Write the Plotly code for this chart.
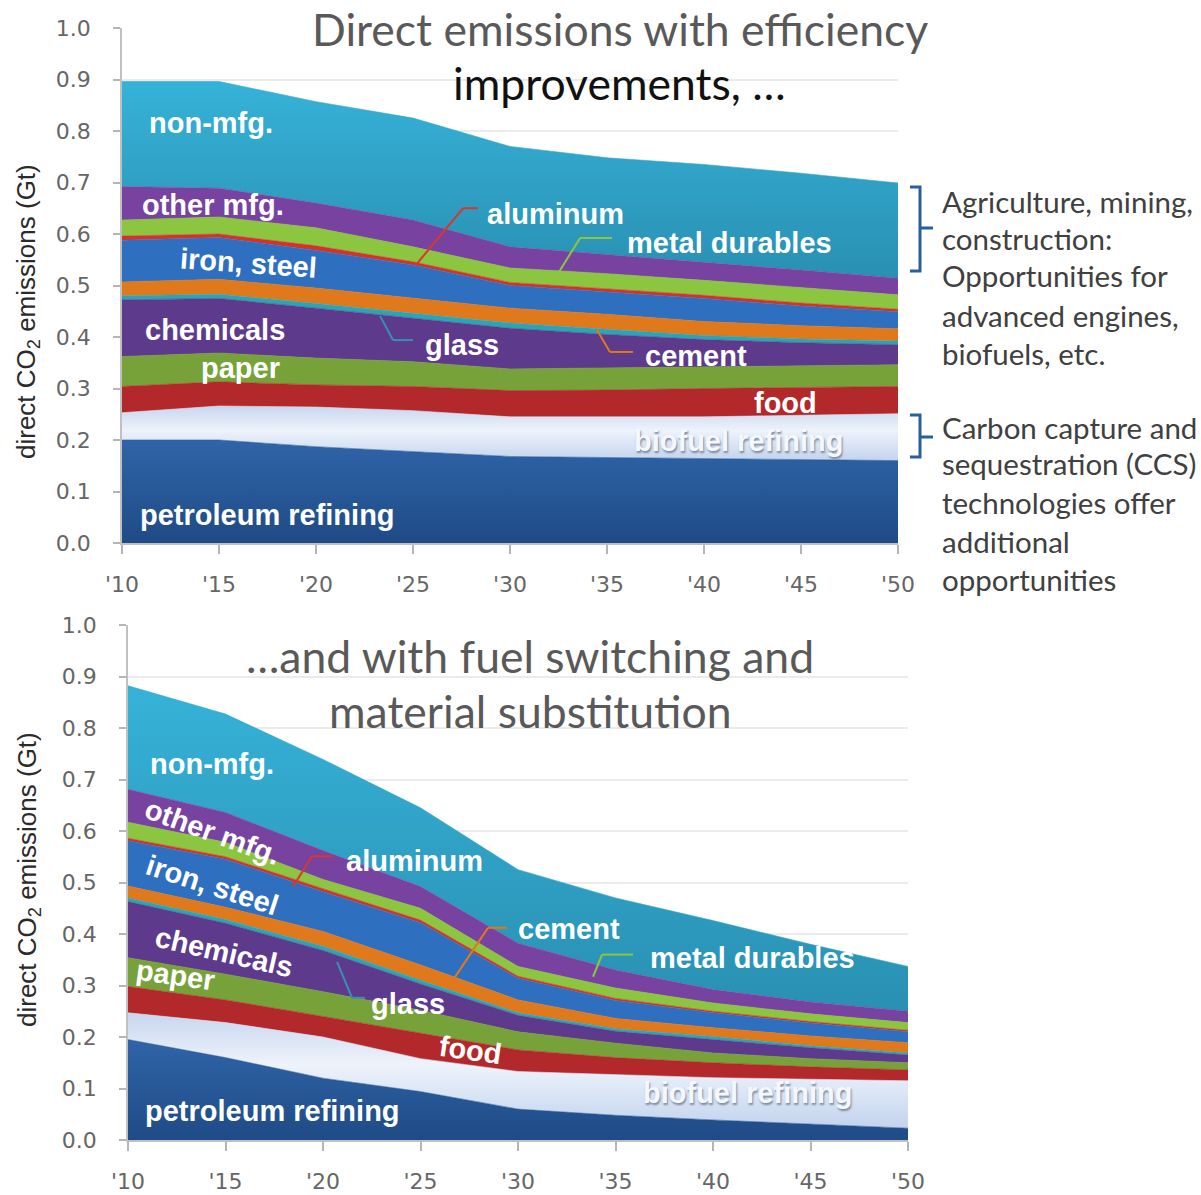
import plotly.graph_objects as go

W, H = 1201, 1195

# ---------------- data ----------------
years = [2010, 2015, 2020, 2025, 2030, 2035, 2040, 2045, 2050]
tick_text = ["'10", "'15", "'20", "'25", "'30", "'35", "'40", "'45", "'50"]
y_ticks = [0.0, 0.1, 0.2, 0.3, 0.4, 0.5, 0.6, 0.7, 0.8, 0.9, 1.0]

sectors = ["petroleum refining", "biofuel refining", "food", "paper", "chemicals",
           "glass", "cement", "iron, steel", "aluminum", "metal durables",
           "other mfg.", "non-mfg."]

# Scenario 1: efficiency improvements (Gt CO2)
eff_petroleum = [0.200, 0.200, 0.187, 0.177, 0.168, 0.166, 0.164, 0.162, 0.160]
eff_biofuel   = [0.053, 0.066, 0.077, 0.080, 0.077, 0.079, 0.081, 0.086, 0.091]
eff_food      = [0.051, 0.047, 0.043, 0.047, 0.051, 0.052, 0.055, 0.054, 0.053]
eff_paper     = [0.058, 0.056, 0.052, 0.048, 0.042, 0.043, 0.043, 0.043, 0.042]
eff_chemicals = [0.110, 0.106, 0.097, 0.085, 0.079, 0.065, 0.052, 0.044, 0.039]
eff_glass     = [0.008, 0.008, 0.009, 0.009, 0.010, 0.010, 0.008, 0.007, 0.007]
eff_cement    = [0.027, 0.029, 0.030, 0.029, 0.029, 0.029, 0.027, 0.026, 0.024]
eff_iron      = [0.081, 0.081, 0.073, 0.065, 0.044, 0.044, 0.045, 0.038, 0.033]
eff_aluminum  = [0.008, 0.007, 0.009, 0.006, 0.006, 0.006, 0.006, 0.006, 0.005]
eff_metal     = [0.031, 0.033, 0.035, 0.029, 0.028, 0.029, 0.029, 0.030, 0.028]
eff_other     = [0.065, 0.056, 0.048, 0.052, 0.041, 0.037, 0.036, 0.034, 0.032]
eff_nonmfg    = [0.204, 0.207, 0.197, 0.198, 0.195, 0.188, 0.189, 0.188, 0.185]

# Scenario 2: + fuel switching and material substitution (Gt CO2)
fs_petroleum = [0.195, 0.160, 0.120, 0.094, 0.060, 0.048, 0.039, 0.031, 0.023]
fs_biofuel   = [0.052, 0.068, 0.080, 0.064, 0.073, 0.079, 0.082, 0.087, 0.092]
fs_food      = [0.051, 0.044, 0.040, 0.049, 0.042, 0.033, 0.029, 0.024, 0.021]
fs_paper     = [0.056, 0.050, 0.048, 0.045, 0.035, 0.028, 0.019, 0.016, 0.014]
fs_chemicals = [0.109, 0.099, 0.080, 0.051, 0.032, 0.023, 0.026, 0.021, 0.015]
fs_glass     = [0.007, 0.007, 0.008, 0.007, 0.005, 0.005, 0.006, 0.004, 0.004]
fs_cement    = [0.023, 0.024, 0.029, 0.030, 0.025, 0.020, 0.017, 0.019, 0.020]
fs_iron      = [0.088, 0.093, 0.077, 0.082, 0.042, 0.035, 0.029, 0.025, 0.021]
fs_aluminum  = [0.005, 0.005, 0.006, 0.005, 0.004, 0.004, 0.003, 0.003, 0.003]
fs_metal     = [0.031, 0.028, 0.018, 0.023, 0.019, 0.020, 0.016, 0.015, 0.015]
fs_other     = [0.064, 0.058, 0.056, 0.042, 0.045, 0.035, 0.026, 0.023, 0.022]
fs_nonmfg    = [0.201, 0.191, 0.177, 0.153, 0.143, 0.140, 0.134, 0.112, 0.087]

eff_series = [eff_petroleum, eff_biofuel, eff_food, eff_paper, eff_chemicals, eff_glass,
              eff_cement, eff_iron, eff_aluminum, eff_metal, eff_other, eff_nonmfg]
fs_series = [fs_petroleum, fs_biofuel, fs_food, fs_paper, fs_chemicals, fs_glass,
             fs_cement, fs_iron, fs_aluminum, fs_metal, fs_other, fs_nonmfg]

colors = {
    "petroleum refining": "#2a5b9b",
    "biofuel refining": "#d6e2f3",
    "food": "#b3282a",
    "paper": "#77a23a",
    "chemicals": "#5d3a8c",
    "glass": "#2aa5b5",
    "cement": "#e0781c",
    "iron, steel": "#2f6fc0",
    "aluminum": "#d4322a",
    "metal durables": "#8cc540",
    "other mfg.": "#7843a0",
    "non-mfg.": "#2fa6cb",
}
gradients = {
    "petroleum refining": [[0, "#1f4b86"], [1, "#2f64a8"]],
    "biofuel refining": [[0, "#c3d4ee"], [0.55, "#eef3fb"], [1, "#c7d6ef"]],
    "non-mfg.": [[0, "#2990b2"], [1, "#36b2d8"]],
}


def px2paper_x(x):
    return x / W


def px2paper_y(y):
    return 1 - y / H


fig = go.Figure()

for series, sg, xa, ya in [(eff_series, "eff", "x", "y"), (fs_series, "fs", "x2", "y2")]:
    for name, vals in zip(sectors, series):
        c = colors[name]
        kw = {}
        if name in gradients:
            kw["fillgradient"] = dict(type="vertical", colorscale=gradients[name])
        fig.add_trace(go.Scatter(
            x=years, y=vals, name=name, stackgroup=sg, mode="lines",
            line=dict(width=0.6, color=c), fillcolor=c,
            xaxis=xa, yaxis=ya, showlegend=False, **kw))

axis_font = dict(family="DejaVu Sans, Verdana, sans-serif", size=22, color="#666666")

xcommon = dict(range=[2010, 2050], tickvals=years, ticktext=tick_text, ticks="outside",
               ticklen=9, tickwidth=1.5, tickcolor="#b5b5b5", showline=True, linecolor="#c0c0c0",
               linewidth=1.5, showgrid=False, zeroline=False, tickfont=axis_font,
               ticklabelstandoff=12, automargin=False)
ycommon = dict(range=[0, 1.0], tickvals=y_ticks, tickformat=".1f", ticks="outside",
               ticklen=7, tickwidth=1.5, tickcolor="#b5b5b5", showline=True, linecolor="#c0c0c0",
               linewidth=1.5, showgrid=True, gridcolor="#ebebeb", gridwidth=1.5,
               zeroline=False, tickfont=axis_font, ticklabelstandoff=18, automargin=False)

fig.update_layout(
    width=W, height=H,
    margin=dict(l=0, r=0, t=0, b=0, autoexpand=False),
    paper_bgcolor="white", plot_bgcolor="white",
    xaxis=dict(domain=[122 / W, 898 / W], anchor="y", **xcommon),
    yaxis=dict(domain=[1 - 543 / H, 1 - 28 / H], anchor="x", **ycommon),
    xaxis2=dict(domain=[128 / W, 908 / W], anchor="y2", **xcommon),
    yaxis2=dict(domain=[1 - 1140 / H, 1 - 625 / H], anchor="x2", **ycommon),
)

annotations = []
shapes = []

lab_font = dict(family="Liberation Sans, Arial, sans-serif", size=29, color="white", weight="bold")
bio_font = dict(family="Liberation Sans, Arial, sans-serif", size=29, color="#f4f7fc", weight="bold",
                shadow="1px 2px 2px #7d8aa0")

# (text, x, y, xanchor, angle)
top_labels = [
    ("non-mfg.", 2011.29, 0.816, "left", 0),
    ("other mfg.", 2010.93, 0.656, "left", 0),
    ("iron, steel", 2012.84, 0.544, "left", 4),
    ("chemicals", 2011.08, 0.414, "left", 0),
    ("paper", 2013.97, 0.340, "left", 0),
    ("glass", 2025.52, 0.384, "left", 0),
    ("aluminum", 2028.71, 0.639, "left", 0),
    ("metal durables", 2035.93, 0.583, "left", 0),
    ("cement", 2036.86, 0.363, "left", 0),
    ("food", 2042.47, 0.272, "left", 0),
    ("petroleum refining", 2010.82, 0.054, "left", 0),
]
for t, x, y, xa, ang in top_labels:
    annotations.append(dict(text=t, x=x, y=y, xref="x", yref="y", xanchor=xa, yanchor="middle",
                            showarrow=False, font=lab_font, textangle=ang))
annotations.append(dict(text="biofuel refining", x=2036.29, y=0.198, xref="x", yref="y",
                        xanchor="left", yanchor="middle", showarrow=False, font=bio_font))

bottom_labels = [
    ("non-mfg.", 2011.03, 0.730, "left", 0),
    ("other mfg.", 2014.36, 0.599, "center", 20),
    ("iron, steel", 2014.31, 0.496, "center", 18),
    ("chemicals", 2014.92, 0.366, "center", 13),
    ("paper", 2012.41, 0.321, "center", 8),
    ("aluminum", 2021.08, 0.541, "left", 0),
    ("cement", 2029.90, 0.409, "left", 0),
    ("glass", 2024.36, 0.265, "center", 0),
    ("metal durables", 2036.67, 0.354, "left", 0),
    ("food", 2027.54, 0.175, "center", 8),
    ("petroleum refining", 2010.77, 0.056, "left", 0),
]
for t, x, y, xa, ang in bottom_labels:
    annotations.append(dict(text=t, x=x, y=y, xref="x2", yref="y2", xanchor=xa, yanchor="middle",
                            showarrow=False, font=lab_font, textangle=ang))
annotations.append(dict(text="biofuel refining", x=2036.31, y=0.091, xref="x2", yref="y2",
                        xanchor="left", yanchor="middle", showarrow=False, font=bio_font))

# leader lines (polylines in data coords)
leaders = [
    ("x", "y", "#d23a30", [(2025.15, 0.540), (2027.58, 0.650), (2028.35, 0.650)]),
    ("x", "y", "#8cc540", [(2032.42, 0.520), (2033.61, 0.592), (2035.26, 0.592)]),
    ("x", "y", "#3a8fb5", [(2023.30, 0.441), (2023.97, 0.394), (2025.00, 0.394)]),
    ("x", "y", "#e0781c", [(2034.48, 0.414), (2035.15, 0.371), (2036.34, 0.371)]),
    ("x2", "y2", "#d23a30", [(2018.46, 0.492), (2019.44, 0.551), (2020.51, 0.551)]),
    ("x2", "y2", "#e0781c", [(2026.67, 0.311), (2028.46, 0.412), (2029.44, 0.412)]),
    ("x2", "y2", "#3a8fb5", [(2020.72, 0.346), (2021.49, 0.276), (2022.15, 0.276)]),
    ("x2", "y2", "#8cc540", [(2033.85, 0.317), (2034.31, 0.360), (2035.90, 0.360)]),
]
for xr, yr, col, pts in leaders:
    for (x0, y0), (x1, y1) in zip(pts[:-1], pts[1:]):
        shapes.append(dict(type="line", xref=xr, yref=yr, x0=x0, y0=y0, x1=x1, y1=y1,
                           line=dict(color=col, width=2)))

# titles
title_font = dict(family="Lato, Open Sans, sans-serif", size=44.5, color="#595959")
annotations += [
    dict(text="Direct emissions with efficiency", x=px2paper_x(620), y=px2paper_y(28),
         xref="paper", yref="paper", showarrow=False, xanchor="center", yanchor="middle",
         font=title_font),
    dict(text="improvements, …", x=px2paper_x(619), y=px2paper_y(83),
         xref="paper", yref="paper", showarrow=False, xanchor="center", yanchor="middle",
         font=dict(family="Lato, Open Sans, sans-serif", size=44.5, color="#111111")),
    dict(text="…and with fuel switching and", x=px2paper_x(530), y=px2paper_y(655),
         xref="paper", yref="paper", showarrow=False, xanchor="center", yanchor="middle",
         font=title_font),
    dict(text="material substitution", x=px2paper_x(530), y=px2paper_y(710),
         xref="paper", yref="paper", showarrow=False, xanchor="center", yanchor="middle",
         font=title_font),
]

# y-axis titles
ytitle_font = dict(family="Liberation Sans, Arial, sans-serif", size=26, color="#2a2a2a")
for cy in (312, 880):
    annotations.append(dict(text="direct CO<sub>2</sub> emissions (Gt)", x=px2paper_x(28),
                            y=px2paper_y(cy), xref="paper", yref="paper", showarrow=False,
                            textangle=-90, xanchor="center", yanchor="middle", font=ytitle_font))

# side notes
note_font = dict(family="Lato, Open Sans, sans-serif", size=29.5, color="#404040")
note1 = ["Agriculture, mining,", "construction:", "Opportunities for",
         "advanced engines,", "biofuels, etc."]
note1_y = [201, 238, 275, 315, 353]
note2 = ["Carbon capture and", "sequestration (CCS)", "technologies offer",
         "additional", "opportunities"]
note2_y = [427, 464, 502, 541, 579]
for lines, ys in ((note1, note1_y), (note2, note2_y)):
    for t, yy in zip(lines, ys):
        annotations.append(dict(text=t, x=px2paper_x(940), y=px2paper_y(yy), xref="paper",
                                yref="paper", showarrow=False, xanchor="left", yanchor="middle",
                                font=note_font))


def bracket(y_top, y_mid, y_bot):
    xl, xv, xt = 910, 920, 933
    pts = [(xl, y_top), (xv, y_top), (xv, y_mid), (xt, y_mid), (xv, y_mid), (xv, y_bot), (xl, y_bot)]
    path = "M " + " L ".join(f"{px2paper_x(a):.5f},{px2paper_y(b):.5f}" for a, b in pts)
    return dict(type="path", xref="paper", yref="paper", path=path,
                line=dict(color="#2a5f9e", width=3))


shapes.append(bracket(187, 228, 271))
shapes.append(bracket(415, 437, 457))

fig.update_layout(annotations=annotations, shapes=shapes)

fig.write_html("out.html", config={"displayModeBar": False},
               post_script="document.body.style.margin='0';")
